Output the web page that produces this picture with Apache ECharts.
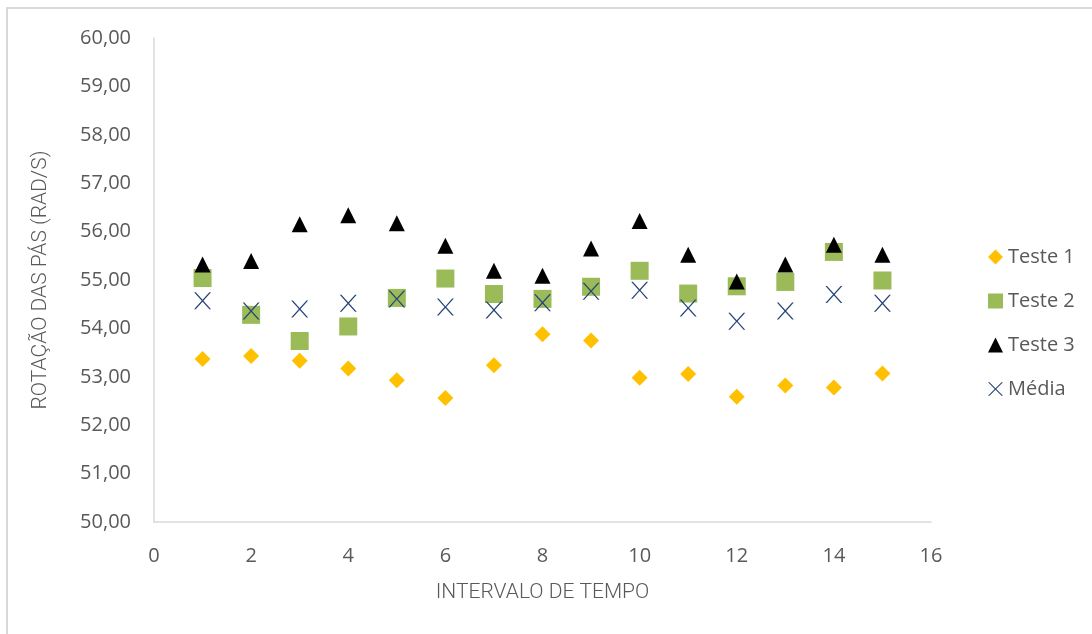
<!DOCTYPE html>
<html>
<head>
<meta charset="utf-8">
<script src="https://cdn.jsdelivr.net/npm/echarts@6/dist/echarts.min.js"></script>
<style>
html,body{margin:0;padding:0;background:#fff;}
#frame{position:absolute;left:6px;top:7px;width:1086px;height:627px;border-left:2px solid #D9D9D9;border-top:2px solid #D9D9D9;box-sizing:border-box;}
#chart{position:absolute;left:0;top:0;width:1092px;height:634px;}
</style>
</head>
<body>
<div id="frame"></div>
<div id="chart"></div>
<script>
const xValues = [1,2,3,4,5,6,7,8,9,10,11,12,13,14,15];
const teste1 = [53.37,53.43,53.33,53.17,52.93,52.56,53.24,53.88,53.75,52.98,53.06,52.59,52.82,52.78,53.07];
const teste2 = [55.04,54.28,53.74,54.04,54.63,55.03,54.71,54.61,54.86,55.19,54.72,54.87,54.96,55.58,54.99];
const teste3 = [55.32,55.39,56.15,56.34,56.17,55.71,55.19,55.09,55.65,56.22,55.52,54.97,55.32,55.73,55.52];
const media  = [54.57,54.36,54.40,54.52,54.61,54.44,54.38,54.53,54.77,54.79,54.42,54.15,54.36,54.70,54.52];
const seriesNames = ['Teste 1','Teste 2','Teste 3','Média'];
const xTitle = 'INTERVALO DE TEMPO';
const yTitle = 'ROTAÇÃO DAS PÁS (RAD/S)';

const xPath = 'path://M0,0 L2,0 L10,8 L18,0 L20,0 L11,9 L11,9 L20,18 L18,18 L10,10 L2,18 L0,18 L9,9 Z';
const pairs = arr => xValues.map((x,i)=>[x,arr[i]]);
const chart = echarts.init(document.getElementById('chart'), null, {renderer:'canvas'});
const font = '"Open Sans", "Noto Sans", sans-serif';
const titleFont = 'Roboto, "Open Sans", sans-serif';
chart.setOption({
  animation:false,
  backgroundColor:'transparent',
  grid:{left:154,right:161,top:38,bottom:112,containLabel:false},
  xAxis:{
    type:'value',min:0,max:16,interval:2,
    axisLine:{show:true,lineStyle:{color:'#D9D9D9',width:1.5}},
    axisTick:{show:false},splitLine:{show:false},
    axisLabel:{color:'#595959',fontSize:20,fontFamily:font,margin:24},
    name:xTitle,nameLocation:'middle',nameGap:60,
    nameTextStyle:{color:'#595959',fontSize:21,fontFamily:titleFont,fontWeight:300}
  },
  yAxis:{
    type:'value',min:50,max:60,interval:1,
    axisLine:{show:true,lineStyle:{color:'#D9D9D9',width:1.5}},
    axisTick:{show:false},splitLine:{show:false},
    axisLabel:{color:'#595959',fontSize:20,fontFamily:font,margin:23,
      formatter:v=>v.toFixed(2).replace('.',',')},
    name:yTitle,nameLocation:'middle',nameGap:103,nameRotate:90,
    nameTextStyle:{color:'#595959',fontSize:21,fontFamily:titleFont,fontWeight:300}
  },
  legend:{
    orient:'vertical',left:983,top:242,itemGap:24,itemWidth:15,itemHeight:15,
    textStyle:{color:'#595959',fontSize:20,fontFamily:font},
    data:[
      {name:seriesNames[0],icon:'diamond'},
      {name:seriesNames[1],icon:'rect'},
      {name:seriesNames[2],icon:'triangle'},
      {name:seriesNames[3],icon:xPath}
    ]
  },
  series:[
    {name:seriesNames[0],type:'scatter',data:pairs(teste1),symbol:'diamond',symbolSize:[16,16],itemStyle:{color:'#FFC000',opacity:1}},
    {name:seriesNames[1],type:'scatter',data:pairs(teste2),symbol:'rect',symbolSize:[18,18],itemStyle:{color:'#9BBB59',opacity:1}},
    {name:seriesNames[2],type:'scatter',data:pairs(teste3),symbol:'triangle',symbolSize:[16,16],itemStyle:{color:'#000000',opacity:1}},
    {name:seriesNames[3],type:'scatter',data:pairs(media),symbol:xPath,symbolSize:[17,17],itemStyle:{color:'#264478',opacity:1}}
  ]
});
</script>
</body>
</html>
